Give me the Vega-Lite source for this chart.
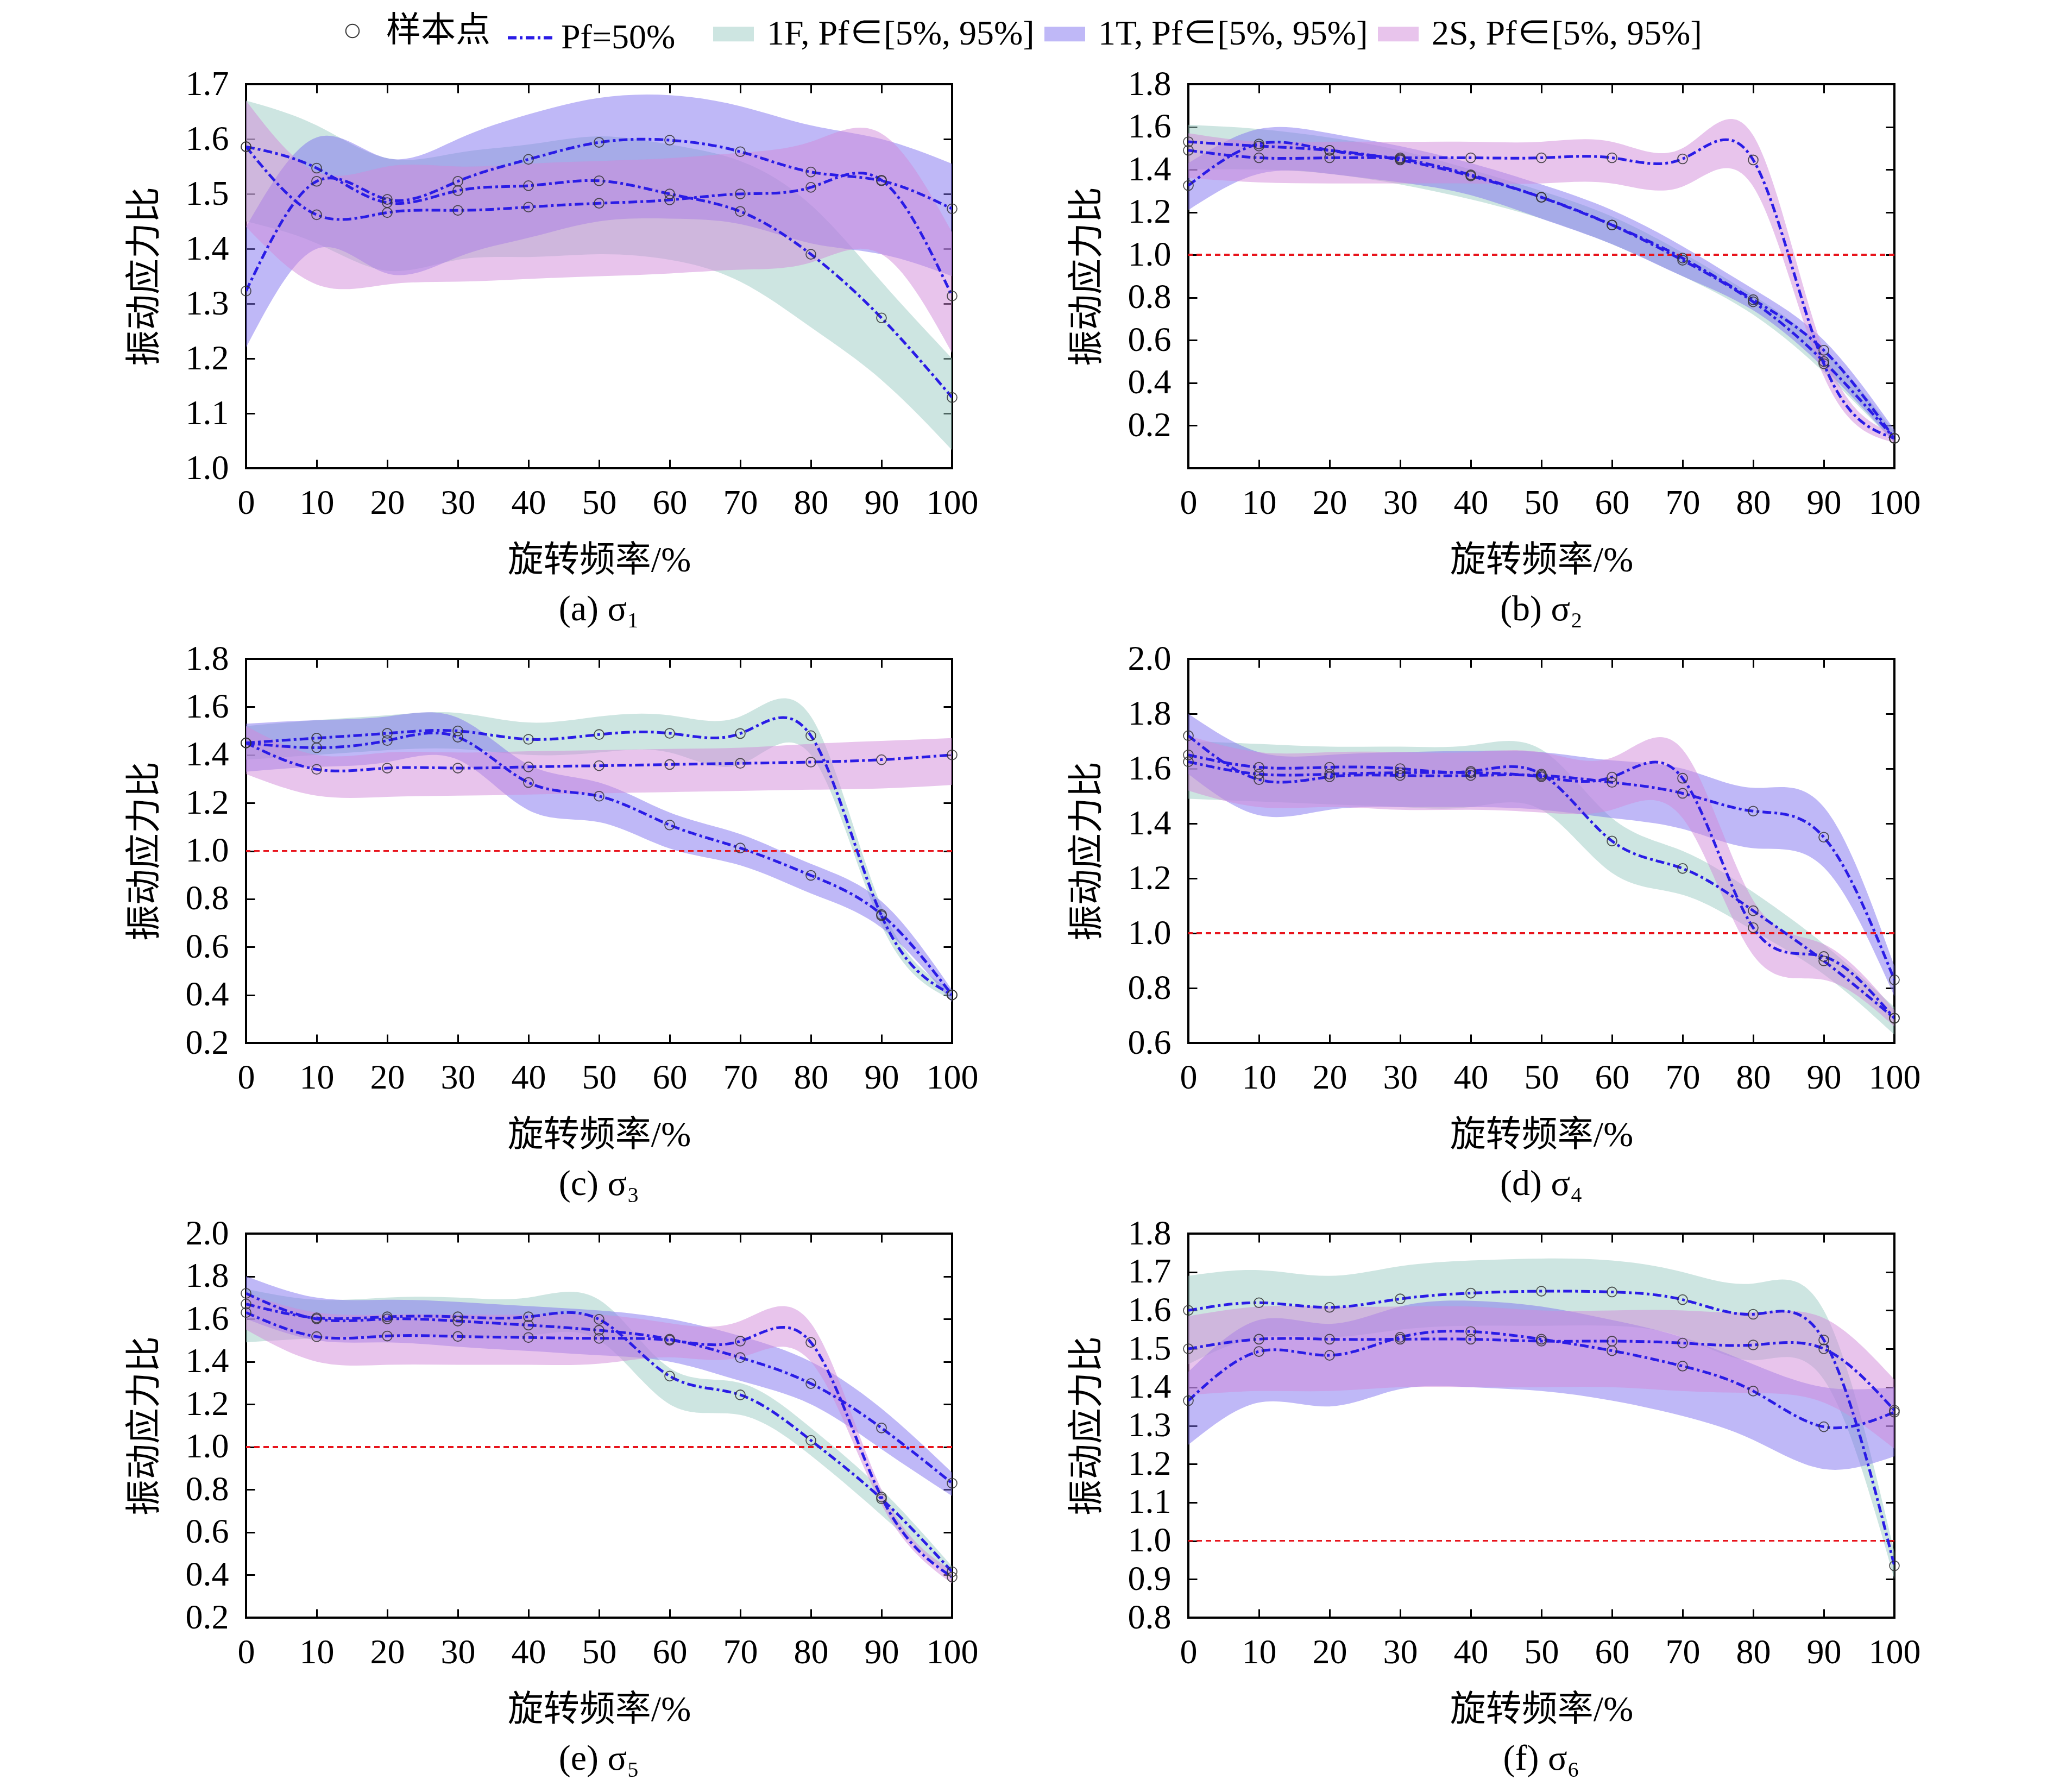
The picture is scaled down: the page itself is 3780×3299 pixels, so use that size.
{
  "$schema": "https://vega.github.io/schema/vega-lite/v6.json",
  "background": "white",
  "padding": {"left": 231, "top": 25, "right": 20, "bottom": 20},
  "data": {"values": [
    {"p":"a","s":"1F","x":0,"m":1.586,"lo":1.45,"hi":1.67},
    {"p":"a","s":"1F","x":10,"m":1.547,"lo":1.41,"hi":1.625},
    {"p":"a","s":"1F","x":20,"m":1.484,"lo":1.36,"hi":1.565},
    {"p":"a","s":"1F","x":30,"m":1.506,"lo":1.38,"hi":1.575},
    {"p":"a","s":"1F","x":40,"m":1.515,"lo":1.385,"hi":1.59},
    {"p":"a","s":"1F","x":50,"m":1.524,"lo":1.39,"hi":1.605},
    {"p":"a","s":"1F","x":60,"m":1.5,"lo":1.38,"hi":1.59},
    {"p":"a","s":"1F","x":70,"m":1.468,"lo":1.34,"hi":1.56},
    {"p":"a","s":"1F","x":80,"m":1.39,"lo":1.257,"hi":1.48},
    {"p":"a","s":"1F","x":90,"m":1.274,"lo":1.161,"hi":1.34},
    {"p":"a","s":"1F","x":100,"m":1.129,"lo":1.033,"hi":1.2},
    {"p":"a","s":"1T","x":0,"m":1.323,"lo":1.22,"hi":1.44},
    {"p":"a","s":"1T","x":10,"m":1.523,"lo":1.4,"hi":1.603},
    {"p":"a","s":"1T","x":20,"m":1.49,"lo":1.355,"hi":1.565},
    {"p":"a","s":"1T","x":30,"m":1.523,"lo":1.385,"hi":1.6},
    {"p":"a","s":"1T","x":40,"m":1.563,"lo":1.42,"hi":1.645},
    {"p":"a","s":"1T","x":50,"m":1.594,"lo":1.45,"hi":1.675},
    {"p":"a","s":"1T","x":60,"m":1.598,"lo":1.455,"hi":1.68},
    {"p":"a","s":"1T","x":70,"m":1.577,"lo":1.445,"hi":1.66},
    {"p":"a","s":"1T","x":80,"m":1.54,"lo":1.41,"hi":1.625},
    {"p":"a","s":"1T","x":90,"m":1.524,"lo":1.39,"hi":1.6},
    {"p":"a","s":"1T","x":100,"m":1.473,"lo":1.35,"hi":1.555},
    {"p":"a","s":"2S","x":0,"m":1.586,"lo":1.44,"hi":1.67},
    {"p":"a","s":"2S","x":10,"m":1.462,"lo":1.335,"hi":1.54},
    {"p":"a","s":"2S","x":20,"m":1.466,"lo":1.335,"hi":1.55},
    {"p":"a","s":"2S","x":30,"m":1.47,"lo":1.34,"hi":1.55},
    {"p":"a","s":"2S","x":40,"m":1.476,"lo":1.345,"hi":1.555},
    {"p":"a","s":"2S","x":50,"m":1.483,"lo":1.35,"hi":1.56},
    {"p":"a","s":"2S","x":60,"m":1.489,"lo":1.355,"hi":1.565},
    {"p":"a","s":"2S","x":70,"m":1.5,"lo":1.362,"hi":1.575},
    {"p":"a","s":"2S","x":80,"m":1.512,"lo":1.375,"hi":1.595},
    {"p":"a","s":"2S","x":90,"m":1.525,"lo":1.39,"hi":1.61},
    {"p":"a","s":"2S","x":100,"m":1.314,"lo":1.21,"hi":1.43},

    {"p":"b","s":"1F","x":0,"m":1.53,"lo":1.4,"hi":1.61},
    {"p":"b","s":"1F","x":10,"m":1.51,"lo":1.4,"hi":1.59},
    {"p":"b","s":"1F","x":20,"m":1.49,"lo":1.38,"hi":1.55},
    {"p":"b","s":"1F","x":30,"m":1.445,"lo":1.33,"hi":1.49},
    {"p":"b","s":"1F","x":40,"m":1.37,"lo":1.26,"hi":1.4},
    {"p":"b","s":"1F","x":50,"m":1.27,"lo":1.17,"hi":1.3},
    {"p":"b","s":"1F","x":60,"m":1.14,"lo":1.05,"hi":1.18},
    {"p":"b","s":"1F","x":70,"m":0.975,"lo":0.9,"hi":1.01},
    {"p":"b","s":"1F","x":80,"m":0.78,"lo":0.72,"hi":0.81},
    {"p":"b","s":"1F","x":90,"m":0.5,"lo":0.45,"hi":0.56},
    {"p":"b","s":"1F","x":100,"m":0.14,"lo":0.12,"hi":0.17},
    {"p":"b","s":"1T","x":0,"m":1.325,"lo":1.21,"hi":1.43},
    {"p":"b","s":"1T","x":10,"m":1.52,"lo":1.38,"hi":1.59},
    {"p":"b","s":"1T","x":20,"m":1.49,"lo":1.38,"hi":1.57},
    {"p":"b","s":"1T","x":30,"m":1.45,"lo":1.34,"hi":1.51},
    {"p":"b","s":"1T","x":40,"m":1.375,"lo":1.28,"hi":1.43},
    {"p":"b","s":"1T","x":50,"m":1.27,"lo":1.17,"hi":1.33},
    {"p":"b","s":"1T","x":60,"m":1.14,"lo":1.05,"hi":1.21},
    {"p":"b","s":"1T","x":70,"m":0.985,"lo":0.9,"hi":1.04},
    {"p":"b","s":"1T","x":80,"m":0.79,"lo":0.74,"hi":0.84},
    {"p":"b","s":"1T","x":90,"m":0.553,"lo":0.47,"hi":0.6},
    {"p":"b","s":"1T","x":100,"m":0.14,"lo":0.12,"hi":0.18},
    {"p":"b","s":"2S","x":0,"m":1.49,"lo":1.36,"hi":1.57},
    {"p":"b","s":"2S","x":10,"m":1.455,"lo":1.34,"hi":1.53},
    {"p":"b","s":"2S","x":20,"m":1.455,"lo":1.335,"hi":1.53},
    {"p":"b","s":"2S","x":30,"m":1.455,"lo":1.335,"hi":1.53},
    {"p":"b","s":"2S","x":40,"m":1.455,"lo":1.335,"hi":1.53},
    {"p":"b","s":"2S","x":50,"m":1.455,"lo":1.335,"hi":1.53},
    {"p":"b","s":"2S","x":60,"m":1.455,"lo":1.335,"hi":1.53},
    {"p":"b","s":"2S","x":70,"m":1.45,"lo":1.32,"hi":1.5},
    {"p":"b","s":"2S","x":80,"m":1.445,"lo":1.32,"hi":1.56},
    {"p":"b","s":"2S","x":90,"m":0.49,"lo":0.43,"hi":0.55},
    {"p":"b","s":"2S","x":100,"m":0.14,"lo":0.12,"hi":0.16},

    {"p":"c","s":"1F","x":0,"m":1.45,"lo":1.38,"hi":1.52},
    {"p":"c","s":"1F","x":10,"m":1.47,"lo":1.4,"hi":1.545},
    {"p":"c","s":"1F","x":20,"m":1.49,"lo":1.42,"hi":1.565},
    {"p":"c","s":"1F","x":30,"m":1.5,"lo":1.425,"hi":1.575},
    {"p":"c","s":"1F","x":40,"m":1.465,"lo":1.4,"hi":1.535},
    {"p":"c","s":"1F","x":50,"m":1.485,"lo":1.41,"hi":1.56},
    {"p":"c","s":"1F","x":60,"m":1.49,"lo":1.41,"hi":1.565},
    {"p":"c","s":"1F","x":70,"m":1.489,"lo":1.36,"hi":1.56},
    {"p":"c","s":"1F","x":80,"m":1.48,"lo":1.4,"hi":1.56},
    {"p":"c","s":"1F","x":90,"m":0.73,"lo":0.69,"hi":0.77},
    {"p":"c","s":"1F","x":100,"m":0.4,"lo":0.38,"hi":0.42},
    {"p":"c","s":"1T","x":0,"m":1.45,"lo":1.33,"hi":1.53},
    {"p":"c","s":"1T","x":10,"m":1.43,"lo":1.35,"hi":1.545},
    {"p":"c","s":"1T","x":20,"m":1.46,"lo":1.37,"hi":1.56},
    {"p":"c","s":"1T","x":30,"m":1.474,"lo":1.38,"hi":1.555},
    {"p":"c","s":"1T","x":40,"m":1.285,"lo":1.17,"hi":1.36},
    {"p":"c","s":"1T","x":50,"m":1.228,"lo":1.12,"hi":1.285},
    {"p":"c","s":"1T","x":60,"m":1.108,"lo":1.01,"hi":1.16},
    {"p":"c","s":"1T","x":70,"m":1.012,"lo":0.94,"hi":1.07},
    {"p":"c","s":"1T","x":80,"m":0.898,"lo":0.823,"hi":0.946},
    {"p":"c","s":"1T","x":90,"m":0.735,"lo":0.68,"hi":0.79},
    {"p":"c","s":"1T","x":100,"m":0.4,"lo":0.37,"hi":0.42},
    {"p":"c","s":"2S","x":0,"m":1.45,"lo":1.32,"hi":1.52},
    {"p":"c","s":"2S","x":10,"m":1.34,"lo":1.23,"hi":1.4},
    {"p":"c","s":"2S","x":20,"m":1.345,"lo":1.225,"hi":1.41},
    {"p":"c","s":"2S","x":30,"m":1.345,"lo":1.23,"hi":1.41},
    {"p":"c","s":"2S","x":40,"m":1.35,"lo":1.235,"hi":1.415},
    {"p":"c","s":"2S","x":50,"m":1.355,"lo":1.24,"hi":1.42},
    {"p":"c","s":"2S","x":60,"m":1.36,"lo":1.245,"hi":1.425},
    {"p":"c","s":"2S","x":70,"m":1.365,"lo":1.25,"hi":1.43},
    {"p":"c","s":"2S","x":80,"m":1.37,"lo":1.255,"hi":1.446},
    {"p":"c","s":"2S","x":90,"m":1.38,"lo":1.26,"hi":1.458},
    {"p":"c","s":"2S","x":100,"m":1.4,"lo":1.275,"hi":1.47},

    {"p":"d","s":"1F","x":0,"m":1.65,"lo":1.49,"hi":1.7},
    {"p":"d","s":"1F","x":10,"m":1.605,"lo":1.48,"hi":1.69},
    {"p":"d","s":"1F","x":20,"m":1.605,"lo":1.47,"hi":1.68},
    {"p":"d","s":"1F","x":30,"m":1.6,"lo":1.46,"hi":1.68},
    {"p":"d","s":"1F","x":40,"m":1.59,"lo":1.46,"hi":1.685},
    {"p":"d","s":"1F","x":50,"m":1.58,"lo":1.45,"hi":1.67},
    {"p":"d","s":"1F","x":60,"m":1.336,"lo":1.22,"hi":1.42},
    {"p":"d","s":"1F","x":70,"m":1.236,"lo":1.14,"hi":1.3},
    {"p":"d","s":"1F","x":80,"m":1.082,"lo":1.01,"hi":1.15},
    {"p":"d","s":"1F","x":90,"m":0.899,"lo":0.85,"hi":0.96},
    {"p":"d","s":"1F","x":100,"m":0.69,"lo":0.63,"hi":0.73},
    {"p":"d","s":"1T","x":0,"m":1.72,"lo":1.58,"hi":1.8},
    {"p":"d","s":"1T","x":10,"m":1.56,"lo":1.43,"hi":1.66},
    {"p":"d","s":"1T","x":20,"m":1.57,"lo":1.45,"hi":1.65},
    {"p":"d","s":"1T","x":30,"m":1.575,"lo":1.46,"hi":1.66},
    {"p":"d","s":"1T","x":40,"m":1.575,"lo":1.46,"hi":1.665},
    {"p":"d","s":"1T","x":50,"m":1.575,"lo":1.45,"hi":1.66},
    {"p":"d","s":"1T","x":60,"m":1.55,"lo":1.42,"hi":1.63},
    {"p":"d","s":"1T","x":70,"m":1.51,"lo":1.38,"hi":1.6},
    {"p":"d","s":"1T","x":80,"m":1.445,"lo":1.31,"hi":1.53},
    {"p":"d","s":"1T","x":90,"m":1.35,"lo":1.24,"hi":1.46},
    {"p":"d","s":"1T","x":100,"m":0.83,"lo":0.77,"hi":0.88},
    {"p":"d","s":"2S","x":0,"m":1.625,"lo":1.52,"hi":1.72},
    {"p":"d","s":"2S","x":10,"m":1.58,"lo":1.46,"hi":1.66},
    {"p":"d","s":"2S","x":20,"m":1.58,"lo":1.46,"hi":1.66},
    {"p":"d","s":"2S","x":30,"m":1.585,"lo":1.45,"hi":1.66},
    {"p":"d","s":"2S","x":40,"m":1.585,"lo":1.45,"hi":1.66},
    {"p":"d","s":"2S","x":50,"m":1.57,"lo":1.44,"hi":1.66},
    {"p":"d","s":"2S","x":60,"m":1.569,"lo":1.45,"hi":1.64},
    {"p":"d","s":"2S","x":70,"m":1.565,"lo":1.42,"hi":1.67},
    {"p":"d","s":"2S","x":80,"m":1.02,"lo":0.92,"hi":1.12},
    {"p":"d","s":"2S","x":90,"m":0.915,"lo":0.83,"hi":0.96},
    {"p":"d","s":"2S","x":100,"m":0.69,"lo":0.66,"hi":0.72},

    {"p":"e","s":"1F","x":0,"m":1.67,"lo":1.49,"hi":1.74},
    {"p":"e","s":"1F","x":10,"m":1.605,"lo":1.51,"hi":1.69},
    {"p":"e","s":"1F","x":20,"m":1.61,"lo":1.52,"hi":1.7},
    {"p":"e","s":"1F","x":30,"m":1.61,"lo":1.52,"hi":1.7},
    {"p":"e","s":"1F","x":40,"m":1.61,"lo":1.52,"hi":1.7},
    {"p":"e","s":"1F","x":50,"m":1.598,"lo":1.5,"hi":1.69},
    {"p":"e","s":"1F","x":60,"m":1.332,"lo":1.2,"hi":1.37},
    {"p":"e","s":"1F","x":70,"m":1.244,"lo":1.15,"hi":1.3},
    {"p":"e","s":"1F","x":80,"m":1.031,"lo":0.96,"hi":1.09},
    {"p":"e","s":"1F","x":90,"m":0.757,"lo":0.68,"hi":0.8},
    {"p":"e","s":"1F","x":100,"m":0.415,"lo":0.38,"hi":0.44},
    {"p":"e","s":"1T","x":0,"m":1.72,"lo":1.6,"hi":1.8},
    {"p":"e","s":"1T","x":10,"m":1.6,"lo":1.5,"hi":1.7},
    {"p":"e","s":"1T","x":20,"m":1.6,"lo":1.49,"hi":1.69},
    {"p":"e","s":"1T","x":30,"m":1.59,"lo":1.47,"hi":1.68},
    {"p":"e","s":"1T","x":40,"m":1.571,"lo":1.45,"hi":1.66},
    {"p":"e","s":"1T","x":50,"m":1.547,"lo":1.43,"hi":1.64},
    {"p":"e","s":"1T","x":60,"m":1.505,"lo":1.4,"hi":1.6},
    {"p":"e","s":"1T","x":70,"m":1.419,"lo":1.31,"hi":1.52},
    {"p":"e","s":"1T","x":80,"m":1.297,"lo":1.2,"hi":1.4},
    {"p":"e","s":"1T","x":90,"m":1.089,"lo":0.99,"hi":1.18},
    {"p":"e","s":"1T","x":100,"m":0.83,"lo":0.77,"hi":0.88},
    {"p":"e","s":"2S","x":0,"m":1.63,"lo":1.55,"hi":1.72},
    {"p":"e","s":"2S","x":10,"m":1.517,"lo":1.4,"hi":1.63},
    {"p":"e","s":"2S","x":20,"m":1.52,"lo":1.385,"hi":1.62},
    {"p":"e","s":"2S","x":30,"m":1.518,"lo":1.385,"hi":1.62},
    {"p":"e","s":"2S","x":40,"m":1.513,"lo":1.385,"hi":1.62},
    {"p":"e","s":"2S","x":50,"m":1.509,"lo":1.39,"hi":1.62},
    {"p":"e","s":"2S","x":60,"m":1.5,"lo":1.42,"hi":1.58},
    {"p":"e","s":"2S","x":70,"m":1.496,"lo":1.42,"hi":1.59},
    {"p":"e","s":"2S","x":80,"m":1.49,"lo":1.4,"hi":1.58},
    {"p":"e","s":"2S","x":90,"m":0.765,"lo":0.73,"hi":0.8},
    {"p":"e","s":"2S","x":100,"m":0.39,"lo":0.36,"hi":0.42},

    {"p":"f","s":"1F","x":0,"m":1.6,"lo":1.46,"hi":1.69},
    {"p":"f","s":"1F","x":10,"m":1.62,"lo":1.53,"hi":1.705},
    {"p":"f","s":"1F","x":20,"m":1.608,"lo":1.53,"hi":1.69},
    {"p":"f","s":"1F","x":30,"m":1.63,"lo":1.55,"hi":1.715},
    {"p":"f","s":"1F","x":40,"m":1.645,"lo":1.56,"hi":1.73},
    {"p":"f","s":"1F","x":50,"m":1.65,"lo":1.56,"hi":1.735},
    {"p":"f","s":"1F","x":60,"m":1.648,"lo":1.56,"hi":1.73},
    {"p":"f","s":"1F","x":70,"m":1.628,"lo":1.53,"hi":1.7},
    {"p":"f","s":"1F","x":80,"m":1.59,"lo":1.47,"hi":1.67},
    {"p":"f","s":"1F","x":90,"m":1.523,"lo":1.42,"hi":1.6},
    {"p":"f","s":"1F","x":100,"m":0.935,"lo":0.9,"hi":0.97},
    {"p":"f","s":"1T","x":0,"m":1.365,"lo":1.25,"hi":1.44},
    {"p":"f","s":"1T","x":10,"m":1.493,"lo":1.36,"hi":1.575},
    {"p":"f","s":"1T","x":20,"m":1.483,"lo":1.35,"hi":1.565},
    {"p":"f","s":"1T","x":30,"m":1.53,"lo":1.395,"hi":1.61},
    {"p":"f","s":"1T","x":40,"m":1.545,"lo":1.4,"hi":1.625},
    {"p":"f","s":"1T","x":50,"m":1.525,"lo":1.39,"hi":1.61},
    {"p":"f","s":"1T","x":60,"m":1.495,"lo":1.365,"hi":1.575},
    {"p":"f","s":"1T","x":70,"m":1.455,"lo":1.325,"hi":1.53},
    {"p":"f","s":"1T","x":80,"m":1.39,"lo":1.263,"hi":1.46},
    {"p":"f","s":"1T","x":90,"m":1.297,"lo":1.187,"hi":1.4},
    {"p":"f","s":"1T","x":100,"m":1.335,"lo":1.22,"hi":1.4},
    {"p":"f","s":"2S","x":0,"m":1.5,"lo":1.38,"hi":1.585},
    {"p":"f","s":"2S","x":10,"m":1.525,"lo":1.39,"hi":1.61},
    {"p":"f","s":"2S","x":20,"m":1.525,"lo":1.39,"hi":1.61},
    {"p":"f","s":"2S","x":30,"m":1.525,"lo":1.4,"hi":1.61},
    {"p":"f","s":"2S","x":40,"m":1.525,"lo":1.4,"hi":1.61},
    {"p":"f","s":"2S","x":50,"m":1.52,"lo":1.4,"hi":1.6},
    {"p":"f","s":"2S","x":60,"m":1.52,"lo":1.4,"hi":1.6},
    {"p":"f","s":"2S","x":70,"m":1.515,"lo":1.39,"hi":1.6},
    {"p":"f","s":"2S","x":80,"m":1.51,"lo":1.385,"hi":1.595},
    {"p":"f","s":"2S","x":90,"m":1.5,"lo":1.36,"hi":1.58},
    {"p":"f","s":"2S","x":100,"m":1.34,"lo":1.24,"hi":1.42}
  ]},
  "config": {
    "view": {"stroke": "black", "strokeWidth": 4},
    "font": "Liberation Serif",
    "axis": {
      "labelFont": "Liberation Serif",
      "labelFontSize": 64,
      "labelColor": "black",
      "labelPadding": 48,
      "labelFlush": false,
      "labelOverlap": false,
      "titleFont": "Liberation Serif, Noto Sans CJK SC",
      "titleFontSize": 66,
      "titleFontWeight": "normal",
      "titleColor": "black",
      "titlePadding": 41,
      "tickColor": "black",
      "tickWidth": 3,
      "tickSize": -16,
      "domain": false,
      "grid": false
    },
    "legend": {
      "labelFont": "Liberation Serif, Noto Sans CJK SC",
      "labelFontSize": 64,
      "labelColor": "black",
      "labelLimit": 2000,
      "title": null
    },
    "title": {"font": "Liberation Serif", "fontSize": 66, "fontWeight": "normal", "color": "black", "orient": "bottom", "offset": 26, "anchor": "middle"}
  },
  "spacing": 22,
  "vconcat": [
    {
      "spacing": 163,
      "hconcat": [
        {
          "width": 1300, "height": 707,
          "title": {"text": "(a) σ₁"},
          "transform": [{"filter": "datum.p == 'a'"}],
          "resolve": {"axis": {"x": "independent", "y": "independent"}},
          "layer": [
            {
              "mark": {"type": "area", "interpolate": "natural", "opacity": 0.5, "clip": true},
              "encoding": {
                "x": {"field": "x", "type": "quantitative", "scale": {"domain": [0, 100], "nice": false}, "axis": {"values": [0, 10, 20, 30, 40, 50, 60, 70, 80, 90, 100], "title": "旋转频率/%"}},
                "y": {"field": "lo", "type": "quantitative", "scale": {"domain": [1, 1.7], "nice": false, "zero": false}, "axis": {"values": [1, 1.1, 1.2, 1.3, 1.4, 1.5, 1.6, 1.7], "format": ".1f", "title": "振动应力比"}},
                "y2": {"field": "hi"},
                "color": {
                  "field": "s", "type": "nominal",
                  "scale": {"domain": ["1F", "1T", "2S"], "range": ["#9bcbc3", "#7f71ef", "#d189d9"]},
                  "legend": {
                    "orient": "none", "legendX": 860, "legendY": -130, "direction": "horizontal", "title": null,
                    "labelExpr": "datum.value + ', Pf∈[5%, 95%]'",
                    "labelOffset": 24, "columnPadding": 18, "symbolSize": 5625, "symbolType": "M-1,-0.36H1V0.36H-1Z",
                    "symbolStrokeWidth": 0, "symbolOpacity": 0.5
                  }
                }
              }
            },
            {
              "mark": {"type": "line", "interpolate": "natural", "color": "#2a1ce6", "strokeWidth": 5, "clip": true},
              "encoding": {
                "x": {"field": "x", "type": "quantitative", "scale": {"domain": [0, 100], "nice": false}, "axis": {"orient": "top", "labels": false, "title": null, "values": [0, 10, 20, 30, 40, 50, 60, 70, 80, 90, 100]}},
                "y": {"field": "m", "type": "quantitative", "scale": {"domain": [1, 1.7], "nice": false, "zero": false}, "axis": {"orient": "right", "labels": false, "title": null, "values": [1, 1.1, 1.2, 1.3, 1.4, 1.5, 1.6, 1.7]}},
                "detail": {"field": "s"},
                "strokeDash": {
                  "datum": "Pf=50%", "type": "nominal",
                  "scale": {"domain": ["Pf=50%"], "range": [[16, 6, 5, 6]]},
                  "legend": {
                    "orient": "none", "legendX": 479, "legendY": -130, "title": null,
                    "labelOffset": 12, "symbolSize": 6889, "symbolStrokeWidth": 6, "symbolStrokeColor": "#2a1ce6"
                  }
                }
              }
            },
            {
              "mark": {"type": "point", "filled": false, "color": "#333333", "size": 320, "strokeWidth": 1.8, "opacity": 0.85},
              "encoding": {
                "x": {"field": "x", "type": "quantitative", "axis": null},
                "y": {"field": "m", "type": "quantitative", "axis": null},
                "shape": {
                  "datum": "样本点", "type": "nominal",
                  "scale": {"domain": ["样本点"], "range": ["circle"]},
                  "legend": {
                    "orient": "none", "legendX": 164, "legendY": -130, "title": null,
                    "labelOffset": 30, "symbolSize": 600, "symbolStrokeWidth": 2, "symbolStrokeColor": "#333333", "symbolOpacity": 1
                  }
                }
              }
            }
          ]
        },
        {
          "width": 1300, "height": 707,
          "title": {"text": "(b) σ₂"},
          "transform": [{"filter": "datum.p == 'b'"}],
          "resolve": {"axis": {"x": "independent", "y": "independent"}},
          "layer": [
            {
              "mark": {"type": "area", "interpolate": "natural", "opacity": 0.5, "clip": true},
              "encoding": {
                "x": {"field": "x", "type": "quantitative", "scale": {"domain": [0, 100], "nice": false}, "axis": {"values": [0, 10, 20, 30, 40, 50, 60, 70, 80, 90, 100], "title": "旋转频率/%"}},
                "y": {"field": "lo", "type": "quantitative", "scale": {"domain": [0, 1.8], "nice": false, "zero": false}, "axis": {"values": [0.2, 0.4, 0.6, 0.8, 1, 1.2, 1.4, 1.6, 1.8], "format": ".1f", "title": "振动应力比"}},
                "y2": {"field": "hi"},
                "color": {"field": "s", "type": "nominal", "scale": {"domain": ["1F", "1T", "2S"], "range": ["#9bcbc3", "#7f71ef", "#d189d9"]}}
              }
            },
            {
              "mark": {"type": "rule", "color": "#e8141c", "strokeWidth": 3, "strokeDash": [10, 7]},
              "encoding": {"y": {"datum": 1, "type": "quantitative", "axis": null}}
            },
            {
              "mark": {"type": "line", "interpolate": "natural", "color": "#2a1ce6", "strokeWidth": 5, "strokeDash": [16, 6, 5, 6], "clip": true},
              "encoding": {
                "x": {"field": "x", "type": "quantitative", "scale": {"domain": [0, 100], "nice": false}, "axis": {"orient": "top", "labels": false, "title": null, "values": [0, 10, 20, 30, 40, 50, 60, 70, 80, 90, 100]}},
                "y": {"field": "m", "type": "quantitative", "scale": {"domain": [0, 1.8], "nice": false, "zero": false}, "axis": {"orient": "right", "labels": false, "title": null, "values": [0.2, 0.4, 0.6, 0.8, 1, 1.2, 1.4, 1.6, 1.8]}},
                "detail": {"field": "s"}
              }
            },
            {
              "mark": {"type": "point", "shape": "circle", "filled": false, "color": "#333333", "size": 320, "strokeWidth": 1.8, "opacity": 0.85},
              "encoding": {
                "x": {"field": "x", "type": "quantitative", "axis": null},
                "y": {"field": "m", "type": "quantitative", "axis": null}
              }
            }
          ]
        }
      ]
    },
    {
      "spacing": 163,
      "hconcat": [
        {
          "width": 1300, "height": 707,
          "title": {"text": "(c) σ₃"},
          "transform": [{"filter": "datum.p == 'c'"}],
          "resolve": {"axis": {"x": "independent", "y": "independent"}},
          "layer": [
            {
              "mark": {"type": "area", "interpolate": "natural", "opacity": 0.5, "clip": true},
              "encoding": {
                "x": {"field": "x", "type": "quantitative", "scale": {"domain": [0, 100], "nice": false}, "axis": {"values": [0, 10, 20, 30, 40, 50, 60, 70, 80, 90, 100], "title": "旋转频率/%"}},
                "y": {"field": "lo", "type": "quantitative", "scale": {"domain": [0.2, 1.8], "nice": false, "zero": false}, "axis": {"values": [0.2, 0.4, 0.6, 0.8, 1, 1.2, 1.4, 1.6, 1.8], "format": ".1f", "title": "振动应力比"}},
                "y2": {"field": "hi"},
                "color": {"field": "s", "type": "nominal", "scale": {"domain": ["1F", "1T", "2S"], "range": ["#9bcbc3", "#7f71ef", "#d189d9"]}}
              }
            },
            {
              "mark": {"type": "rule", "color": "#e8141c", "strokeWidth": 3, "strokeDash": [10, 7]},
              "encoding": {"y": {"datum": 1, "type": "quantitative", "axis": null}}
            },
            {
              "mark": {"type": "line", "interpolate": "natural", "color": "#2a1ce6", "strokeWidth": 5, "strokeDash": [16, 6, 5, 6], "clip": true},
              "encoding": {
                "x": {"field": "x", "type": "quantitative", "scale": {"domain": [0, 100], "nice": false}, "axis": {"orient": "top", "labels": false, "title": null, "values": [0, 10, 20, 30, 40, 50, 60, 70, 80, 90, 100]}},
                "y": {"field": "m", "type": "quantitative", "scale": {"domain": [0.2, 1.8], "nice": false, "zero": false}, "axis": {"orient": "right", "labels": false, "title": null, "values": [0.2, 0.4, 0.6, 0.8, 1, 1.2, 1.4, 1.6, 1.8]}},
                "detail": {"field": "s"}
              }
            },
            {
              "mark": {"type": "point", "shape": "circle", "filled": false, "color": "#333333", "size": 320, "strokeWidth": 1.8, "opacity": 0.85},
              "encoding": {
                "x": {"field": "x", "type": "quantitative", "axis": null},
                "y": {"field": "m", "type": "quantitative", "axis": null}
              }
            }
          ]
        },
        {
          "width": 1300, "height": 707,
          "title": {"text": "(d) σ₄"},
          "transform": [{"filter": "datum.p == 'd'"}],
          "resolve": {"axis": {"x": "independent", "y": "independent"}},
          "layer": [
            {
              "mark": {"type": "area", "interpolate": "natural", "opacity": 0.5, "clip": true},
              "encoding": {
                "x": {"field": "x", "type": "quantitative", "scale": {"domain": [0, 100], "nice": false}, "axis": {"values": [0, 10, 20, 30, 40, 50, 60, 70, 80, 90, 100], "title": "旋转频率/%"}},
                "y": {"field": "lo", "type": "quantitative", "scale": {"domain": [0.6, 2], "nice": false, "zero": false}, "axis": {"values": [0.6, 0.8, 1, 1.2, 1.4, 1.6, 1.8, 2], "format": ".1f", "title": "振动应力比"}},
                "y2": {"field": "hi"},
                "color": {"field": "s", "type": "nominal", "scale": {"domain": ["1F", "1T", "2S"], "range": ["#9bcbc3", "#7f71ef", "#d189d9"]}}
              }
            },
            {
              "mark": {"type": "rule", "color": "#e8141c", "strokeWidth": 3, "strokeDash": [10, 7]},
              "encoding": {"y": {"datum": 1, "type": "quantitative", "axis": null}}
            },
            {
              "mark": {"type": "line", "interpolate": "natural", "color": "#2a1ce6", "strokeWidth": 5, "strokeDash": [16, 6, 5, 6], "clip": true},
              "encoding": {
                "x": {"field": "x", "type": "quantitative", "scale": {"domain": [0, 100], "nice": false}, "axis": {"orient": "top", "labels": false, "title": null, "values": [0, 10, 20, 30, 40, 50, 60, 70, 80, 90, 100]}},
                "y": {"field": "m", "type": "quantitative", "scale": {"domain": [0.6, 2], "nice": false, "zero": false}, "axis": {"orient": "right", "labels": false, "title": null, "values": [0.6, 0.8, 1, 1.2, 1.4, 1.6, 1.8, 2]}},
                "detail": {"field": "s"}
              }
            },
            {
              "mark": {"type": "point", "shape": "circle", "filled": false, "color": "#333333", "size": 320, "strokeWidth": 1.8, "opacity": 0.85},
              "encoding": {
                "x": {"field": "x", "type": "quantitative", "axis": null},
                "y": {"field": "m", "type": "quantitative", "axis": null}
              }
            }
          ]
        }
      ]
    },
    {
      "spacing": 163,
      "hconcat": [
        {
          "width": 1300, "height": 707,
          "title": {"text": "(e) σ₅"},
          "transform": [{"filter": "datum.p == 'e'"}],
          "resolve": {"axis": {"x": "independent", "y": "independent"}},
          "layer": [
            {
              "mark": {"type": "area", "interpolate": "natural", "opacity": 0.5, "clip": true},
              "encoding": {
                "x": {"field": "x", "type": "quantitative", "scale": {"domain": [0, 100], "nice": false}, "axis": {"values": [0, 10, 20, 30, 40, 50, 60, 70, 80, 90, 100], "title": "旋转频率/%"}},
                "y": {"field": "lo", "type": "quantitative", "scale": {"domain": [0.2, 2], "nice": false, "zero": false}, "axis": {"values": [0.2, 0.4, 0.6, 0.8, 1, 1.2, 1.4, 1.6, 1.8, 2], "format": ".1f", "title": "振动应力比"}},
                "y2": {"field": "hi"},
                "color": {"field": "s", "type": "nominal", "scale": {"domain": ["1F", "1T", "2S"], "range": ["#9bcbc3", "#7f71ef", "#d189d9"]}}
              }
            },
            {
              "mark": {"type": "rule", "color": "#e8141c", "strokeWidth": 3, "strokeDash": [10, 7]},
              "encoding": {"y": {"datum": 1, "type": "quantitative", "axis": null}}
            },
            {
              "mark": {"type": "line", "interpolate": "natural", "color": "#2a1ce6", "strokeWidth": 5, "strokeDash": [16, 6, 5, 6], "clip": true},
              "encoding": {
                "x": {"field": "x", "type": "quantitative", "scale": {"domain": [0, 100], "nice": false}, "axis": {"orient": "top", "labels": false, "title": null, "values": [0, 10, 20, 30, 40, 50, 60, 70, 80, 90, 100]}},
                "y": {"field": "m", "type": "quantitative", "scale": {"domain": [0.2, 2], "nice": false, "zero": false}, "axis": {"orient": "right", "labels": false, "title": null, "values": [0.2, 0.4, 0.6, 0.8, 1, 1.2, 1.4, 1.6, 1.8, 2]}},
                "detail": {"field": "s"}
              }
            },
            {
              "mark": {"type": "point", "shape": "circle", "filled": false, "color": "#333333", "size": 320, "strokeWidth": 1.8, "opacity": 0.85},
              "encoding": {
                "x": {"field": "x", "type": "quantitative", "axis": null},
                "y": {"field": "m", "type": "quantitative", "axis": null}
              }
            }
          ]
        },
        {
          "width": 1300, "height": 707,
          "title": {"text": "(f) σ₆"},
          "transform": [{"filter": "datum.p == 'f'"}],
          "resolve": {"axis": {"x": "independent", "y": "independent"}},
          "layer": [
            {
              "mark": {"type": "area", "interpolate": "natural", "opacity": 0.5, "clip": true},
              "encoding": {
                "x": {"field": "x", "type": "quantitative", "scale": {"domain": [0, 100], "nice": false}, "axis": {"values": [0, 10, 20, 30, 40, 50, 60, 70, 80, 90, 100], "title": "旋转频率/%"}},
                "y": {"field": "lo", "type": "quantitative", "scale": {"domain": [0.8, 1.8], "nice": false, "zero": false}, "axis": {"values": [0.8, 0.9, 1, 1.1, 1.2, 1.3, 1.4, 1.5, 1.6, 1.7, 1.8], "format": ".1f", "title": "振动应力比"}},
                "y2": {"field": "hi"},
                "color": {"field": "s", "type": "nominal", "scale": {"domain": ["1F", "1T", "2S"], "range": ["#9bcbc3", "#7f71ef", "#d189d9"]}}
              }
            },
            {
              "mark": {"type": "rule", "color": "#e8141c", "strokeWidth": 3, "strokeDash": [10, 7]},
              "encoding": {"y": {"datum": 1, "type": "quantitative", "axis": null}}
            },
            {
              "mark": {"type": "line", "interpolate": "natural", "color": "#2a1ce6", "strokeWidth": 5, "strokeDash": [16, 6, 5, 6], "clip": true},
              "encoding": {
                "x": {"field": "x", "type": "quantitative", "scale": {"domain": [0, 100], "nice": false}, "axis": {"orient": "top", "labels": false, "title": null, "values": [0, 10, 20, 30, 40, 50, 60, 70, 80, 90, 100]}},
                "y": {"field": "m", "type": "quantitative", "scale": {"domain": [0.8, 1.8], "nice": false, "zero": false}, "axis": {"orient": "right", "labels": false, "title": null, "values": [0.8, 0.9, 1, 1.1, 1.2, 1.3, 1.4, 1.5, 1.6, 1.7, 1.8]}},
                "detail": {"field": "s"}
              }
            },
            {
              "mark": {"type": "point", "shape": "circle", "filled": false, "color": "#333333", "size": 320, "strokeWidth": 1.8, "opacity": 0.85},
              "encoding": {
                "x": {"field": "x", "type": "quantitative", "axis": null},
                "y": {"field": "m", "type": "quantitative", "axis": null}
              }
            }
          ]
        }
      ]
    }
  ]
}
